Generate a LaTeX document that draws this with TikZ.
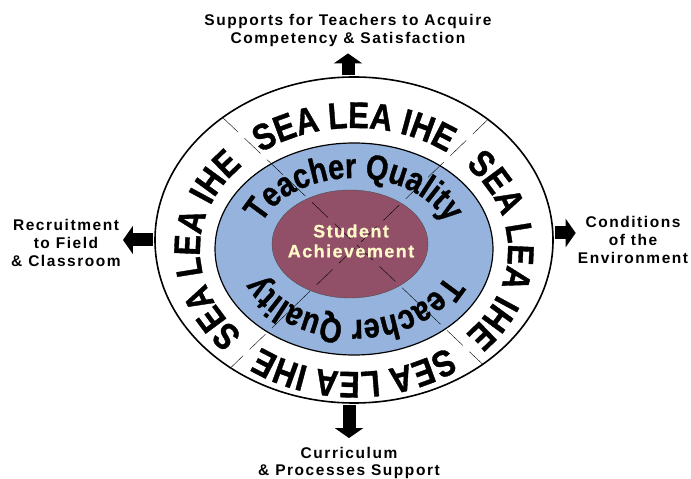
\documentclass[tikz,border=0pt]{standalone}
\usepackage{fontspec}
\setmainfont{Liberation Sans}
\usepackage{tikz}
\usetikzlibrary{positioning}
\usetikzlibrary{arrows.meta}
\usetikzlibrary{shapes.geometric}
\usetikzlibrary{decorations.text}

\newfontfamily\labelfont{Liberation Sans}[LetterSpace=10]
\newfontfamily\ringfont{Liberation Sans}[FakeStretch=0.84,FakeBold=1]
\newfontfamily\tqfont{Liberation Sans}[FakeStretch=0.82,FakeBold=1]
\newfontfamily\corefont{Liberation Sans}[LetterSpace=8,FakeBold=0.6]

\definecolor{ringblue}{RGB}{149,179,220}
\definecolor{coremaroon}{RGB}{145,80,104}
\definecolor{cream}{RGB}{255,248,200}

\begin{document}
\begin{tikzpicture}[x=1pt,y=1pt,
    outlabel/.style={font=\labelfont\bfseries\fontsize{15.5}{18}\selectfont, align=center, inner sep=2pt},
    blockarrow/.style={line width=13pt, -{Triangle[width=28pt,length=10pt]}, shorten <=1pt},
    ray/.style={thin, dash pattern=on 22pt off 9pt}]
  \useasboundingbox (0,0) rectangle (691,479);

  % rings
  \node[ellipse, draw, line width=1.6pt, fill=white, minimum width=398pt, minimum height=326pt, inner sep=0pt] (ring) at (354,239) {};
  \node[ellipse, draw, line width=1.2pt, fill=ringblue, minimum width=278pt, minimum height=212pt, inner sep=0pt] (tq) at (354,230) {};
  \node[ellipse, draw=black!70, fill=coremaroon, minimum width=156pt, minimum height=108pt, inner sep=0pt] (core) at (350,235) {};

  % outside labels
  \node[outlabel] (sup) at (348,449) {Supports for Teachers to Acquire\\Competency \& Satisfaction};
  \node[outlabel] (rec) at (66,236) {Recruitment\\to Field\\\& Classroom};
  \node[outlabel] (env) at (633,239) {Conditions\\of the\\Environment};
  \node[outlabel, font=\labelfont\bfseries\fontsize{15.5}{17}\selectfont] (cur) at (349,16) {Curriculum\\\& Processes Support};

  \draw[blockarrow, shorten >=5pt] (sup.south |- ring.north) -- (sup.south);
  \draw[blockarrow, shorten >=7pt] (cur.north |- ring.south) -- (cur.north);
  \draw[blockarrow] (ring.west) -- (ring.west -| rec.east);
  \draw[blockarrow] ([yshift=7pt]ring.east) -- ([yshift=7pt]ring.east -| env.west);

  \draw[ray] (ring.137) -- (ring.-44);
  \draw[ray] (ring.42) -- (ring.-134);

  \node[font=\corefont\bfseries\fontsize{18}{20}\selectfont, text=cream, align=center] (sa) at (351,238) {Student\\Achievement};

  % lettering round the rings
  \coordinate (rc) at (354,229);
  \foreach \a in {135,45,-45,-135}
    \path[decorate, decoration={text along path, text align=center,
        text={|\ringfont\bfseries\fontsize{37}{37}\selectfont|SEA LEA IHE}}]
      (rc) ++(\a:154pt and 122pt) arc[start angle=\a, delta angle=-90, x radius=154pt, y radius=122pt];
  \coordinate (tc) at (354,230);
  \foreach \a in {180,0}
    \path[decorate, decoration={text along path, text align=center,
        text={|\tqfont\bfseries\fontsize{35}{35}\selectfont|Teacher Quality}}]
      (tc) ++(\a:99pt and 71pt) arc[start angle=\a, delta angle=-180, x radius=99pt, y radius=71pt];
\end{tikzpicture}
\end{document}
